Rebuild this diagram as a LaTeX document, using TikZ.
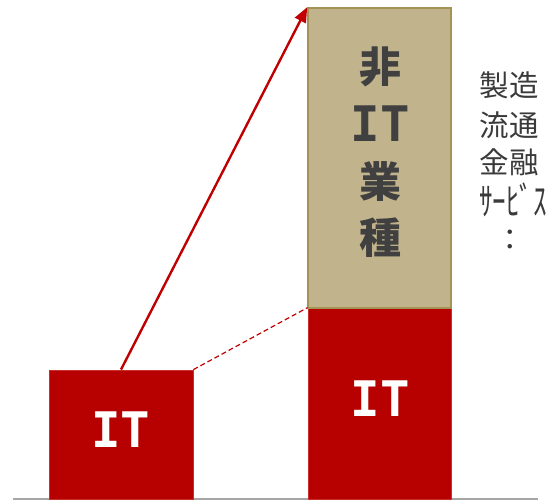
\documentclass[tikz,border=0pt]{standalone}
\usepackage{fontspec}
\newfontfamily\jp{Noto Sans CJK JP}
\newfontfamily\itfont{DejaVu Sans Mono}
\usetikzlibrary{arrows.meta}
\definecolor{itred}{HTML}{B70000}
\definecolor{itredline}{HTML}{C9302C}
\definecolor{arrowred}{HTML}{C00000}
\definecolor{tanfill}{HTML}{C1B48C}
\definecolor{tanline}{HTML}{A39456}
\definecolor{txtgray}{HTML}{404040}
\definecolor{basegray}{HTML}{A6A6A6}
\tikzset{
  redbar/.style={draw=itredline, line width=0.8pt, fill=itred, inner sep=0pt, minimum width=#1},
  tanbar/.style={draw=tanline, line width=1.6pt, fill=tanfill, inner sep=0pt},
  itlabel/.style={text=white, font=\itfont\bfseries\fontsize{49}{49}\selectfont, inner sep=0pt},
  tanit/.style={text=txtgray, font=\itfont\bfseries\fontsize{49}{49}\selectfont, inner sep=0pt},
  tanlabel/.style={text=txtgray, font=\jp\bfseries\fontsize{42}{42}\selectfont, inner sep=0pt},
  sidelabel/.style={text=txtgray!90!black, font=\jp\fontsize{29.5}{29.5}\selectfont, inner sep=0pt},
}
\begin{document}
\begin{tikzpicture}[x=1pt,y=-1pt]
\useasboundingbox (0,0) rectangle (554,500);
% baseline
\coordinate (b0) at (13,499);
\coordinate (b1) at (538,499);
\draw[basegray, line width=1.2pt] (b0) -- (b1);
% bars
\node[redbar=144pt, minimum height=129pt] (left) at (121,434.5) {};
\node[redbar=143pt, minimum height=191pt] (right) at (379.5,403.5) {};
\node[tanbar, minimum width=143pt, minimum height=300pt] (tan) at (379.5,158) {};
% labels
\node[itlabel] (lit) at (121,430) {IT};
\node[itlabel] (rit) at (380,399) {IT};
\node[tanlabel] (t1) at (380,67) {非};
\node[tanit] (t2) at (380,124) {IT};
\node[tanlabel] (t3) at (380,182) {業};
\node[tanlabel] (t4) at (380,238) {種};
\node[sidelabel] (s1) at (509,85) {製造};
\node[sidelabel] (s2) at (509,125) {流通};
\node[sidelabel] (s3) at (509,162) {金融};
\node[sidelabel] (s4) at (513,200) {\scalebox{0.92}[1.3]{ｻｰﾋﾞｽ}};
\node[sidelabel] (s5) at (510,240) {：};
% connectors
\draw[arrowred, line width=2.4pt, -{Triangle[length=15pt,width=12pt]}] (left.north) -- (tan.north west);
\draw[arrowred, line width=1.2pt, dash pattern=on 5pt off 3pt] (left.north east) -- (right.north west);
\end{tikzpicture}
\end{document}
